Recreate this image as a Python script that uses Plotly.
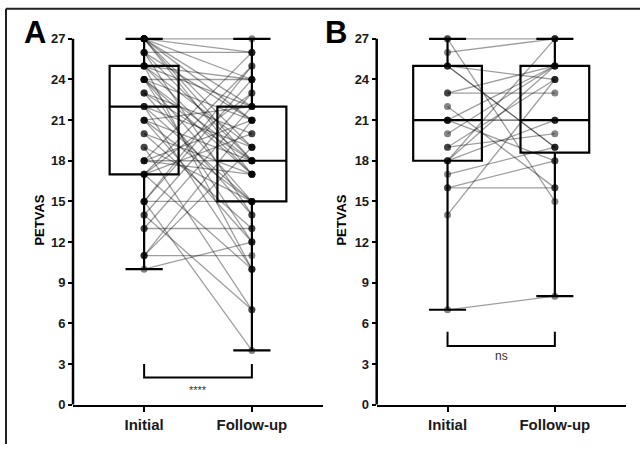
import plotly.graph_objects as go

# ---------------- data ----------------
categories = ["Initial", "Follow-up"]
y_ticks = [0, 3, 6, 9, 12, 15, 18, 21, 24, 27]

# Panel A paired values (initial -> follow-up)
a_initial = [27, 27, 27, 27, 27, 27, 27, 27,
             26, 26, 26, 26,
             25, 25, 25, 25, 25,
             24, 24, 24, 24, 24, 24,
             23, 23, 23,
             22, 22, 22,
             21, 21, 21, 21,
             20, 20,
             19, 19,
             18, 18, 18, 18,
             17, 17, 17, 17,
             15, 15, 15, 15,
             14, 14,
             13, 13,
             11, 11, 11,
             10]
a_follow = [27, 26, 24, 22, 21, 19, 18, 17,
            26, 21, 18, 14,
            24, 22, 19, 17, 10,
            24, 21, 18, 17, 15, 12,
            20, 18, 14,
            19, 15, 10,
            22, 18, 15, 12,
            17, 13,
            15, 7,
            26, 21, 18, 17,
            25, 23, 20, 10,
            25, 24, 15, 4,
            23, 7,
            22, 13,
            21, 19, 11,
            12]

# Panel B paired values (initial -> follow-up)
b_initial = [27, 27, 26, 25, 25, 25, 23, 23, 22, 21, 21, 21, 21,
             20, 19, 19, 18, 18, 18, 17, 16, 16, 14, 7]
b_follow = [27, 15, 27, 19, 19, 24, 23, 25, 16, 21, 25, 18, 21,
            25, 24, 20, 21, 27, 25, 19, 18, 16, 24, 8]

# box statistics: [Initial, Follow-up]
a_q1, a_med, a_q3, a_lo, a_hi = [17, 15], [22, 18], [25, 22], [10, 4], [27, 27]
b_q1, b_med, b_q3, b_lo, b_hi = [18, 18.6], [21, 21], [25, 25], [7, 8], [27, 27]

# stats annotations
a_sig = "****"
b_sig = "ns"

# ---------------- figure ----------------
W, H = 640, 452
FONT = "Liberation Sans, Arial, sans-serif"
fig = go.Figure()

def add_panel(xa, ya, init, foll, q1, med, q3, lo, hi):
    for i in range(2):
        fig.add_trace(go.Box(
            x=[i], q1=[q1[i]], median=[med[i]], q3=[q3[i]],
            lowerfence=[lo[i]], upperfence=[hi[i]],
            width=0.64, whiskerwidth=0.54, boxpoints=False,
            fillcolor="rgba(0,0,0,0)", line=dict(color="black", width=2.2),
            xaxis=xa, yaxis=ya, showlegend=False, hoverinfo="skip"))
    lx, ly = [], []
    for a, b in zip(init, foll):
        lx += [0, 1, None]
        ly += [a, b, None]
    fig.add_trace(go.Scatter(x=lx, y=ly, mode="lines",
                             line=dict(color="rgba(0,0,0,0.38)", width=1.3),
                             xaxis=xa, yaxis=ya, showlegend=False, hoverinfo="skip"))
    fig.add_trace(go.Scatter(x=[0] * len(init) + [1] * len(foll), y=init + foll,
                             mode="markers",
                             marker=dict(size=7, color="rgba(0,0,0,0.48)", line=dict(width=0)),
                             xaxis=xa, yaxis=ya, showlegend=False, cliponaxis=False,
                             hoverinfo="skip"))

add_panel("x", "y", a_initial, a_follow, a_q1, a_med, a_q3, a_lo, a_hi)
add_panel("x2", "y2", b_initial, b_follow, b_q1, b_med, b_q3, b_lo, b_hi)

y_top = 27.4
y_dom = [1 - 411.7 / H, 1 - (411.7 - y_top * 13.852) / H]

def xaxis(dom, anchor):
    return dict(domain=dom, range=[-0.66, 1.66], anchor=anchor,
                tickvals=[0, 1], ticktext=categories,
                ticks="outside", ticklen=5, tickwidth=2, tickcolor="black",
                showline=True, linewidth=2.5, linecolor="black",
                showgrid=False, zeroline=False, fixedrange=True,
                tickfont=dict(family=FONT, size=15, color="#1a1a1a", weight="bold"))

def yaxis(anchor):
    return dict(domain=y_dom, range=[0, y_top], anchor=anchor,
                tickvals=y_ticks, ticks="outside", ticklen=4, tickwidth=2,
                tickcolor="black", showline=False, showgrid=False, zeroline=False,
                fixedrange=True,
                tickfont=dict(family=FONT, size=13, color="#1a1a1a", weight="bold"))

shapes = []
# y-axis lines from 0 to 27 only
for xr, yr in (("x domain", "y domain"), ("x2 domain", "y2 domain")):
    shapes.append(dict(type="line", xref=xr, yref=yr, x0=0, x1=0, y0=0, y1=27 / y_top,
                       line=dict(color="black", width=2.5)))
# significance brackets
shapes.append(dict(type="path", xref="x", yref="y", path="M 0,3 L 0,2 L 1,2 L 1,3",
                   line=dict(color="black", width=2)))
shapes.append(dict(type="path", xref="x2", yref="y2", path="M 0,5.37 L 0,4.33 L 1,4.33 L 1,5.37",
                   line=dict(color="black", width=2)))
# outer frame (top and left)
fy = 1 - 7 / H
fx = 6 / W
shapes.append(dict(type="line", xref="paper", yref="paper", x0=fx, x1=1, y0=fy, y1=fy,
                   line=dict(color="#222", width=2)))
shapes.append(dict(type="line", xref="paper", yref="paper", x0=fx, x1=fx, y0=fy, y1=0,
                   line=dict(color="#222", width=2)))

def label(text, px, py, size, angle=0):
    return dict(text=text, x=px / W, y=1 - py / H, xref="paper", yref="paper",
                showarrow=False, xanchor="center", yanchor="middle", textangle=angle,
                font=dict(family=FONT, size=size, color="black", weight="bold"))

annotations = [
    label("A", 35, 31.5, 31),
    label("B", 336, 31.5, 31),
    label("PETVAS", 40, 223.5, 13, -90),
    label("PETVAS", 342, 223.5, 13, -90),
    dict(text=a_sig, x=0.5, y=1.1, xref="x", yref="y", showarrow=False,
         xanchor="center", yanchor="middle",
         font=dict(family=FONT, size=11, color="#333")),
    dict(text=b_sig, x=0.5, y=3.6, xref="x2", yref="y2", showarrow=False,
         xanchor="center", yanchor="middle",
         font=dict(family=FONT, size=12, color="#333")),
]

fig.update_layout(
    width=W, height=H, margin=dict(l=0, r=0, t=0, b=0),
    paper_bgcolor="white", plot_bgcolor="rgba(0,0,0,0)",
    xaxis=xaxis([73 / W, 323 / W], "y"),
    yaxis=yaxis("x"),
    xaxis2=xaxis([376.7 / W, 625.7 / W], "y2"),
    yaxis2=yaxis("x2"),
    shapes=shapes, annotations=annotations,
    boxmode="overlay", showlegend=False,
)

post = (
    "var h=document.documentElement,b=document.body;"
    "h.style.margin='0';b.style.margin='0';h.style.padding='0';b.style.padding='0';"
    "h.style.overflow='hidden';b.style.overflow='hidden';"
)

fig.write_html("out.html", config={"displayModeBar": False, "staticPlot": True},
               post_script=post)
